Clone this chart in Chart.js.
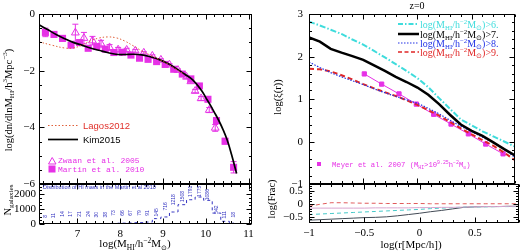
<!DOCTYPE html>
<html>
<head>
<meta charset="utf-8">
<script src="https://cdn.jsdelivr.net/npm/chart.js@4.4.1/dist/chart.umd.min.js"></script>
<style>
  body { margin: 0; background: #fff; width: 520px; height: 252px; position: relative; overflow: hidden; }
  canvas { position: absolute; }
</style>
</head>
<body>
<canvas id="hiTop" width="258" height="192" style="left:0px;top:0px"></canvas>
<canvas id="hiHist" width="258" height="72" style="left:0px;top:180px"></canvas>
<canvas id="xiTop" width="260" height="192" style="left:260px;top:0px"></canvas>
<canvas id="xiFrac" width="260" height="72" style="left:260px;top:180px"></canvas>
<script>
// ---- HI mass function (left panel) ----
const martinM = [6.25, 6.45, 6.65, 6.85, 7.05, 7.25, 7.45, 7.65, 7.85, 8.05, 8.25, 8.45, 8.65, 8.85, 9.05, 9.25, 9.45, 9.65, 9.85, 10.05, 10.25, 10.45, 10.65];
const martinPhi = [-0.65, -0.72, -0.86, -1.10, -1.01, -1.21, -1.15, -1.24, -1.36, -1.35, -1.45, -1.56, -1.60, -1.68, -1.78, -1.95, -2.12, -2.29, -2.54, -3.01, -3.76, -4.49, -5.41];
const martinErr = [0.15, 0.1, 0.1, 0.08, 0.1, 0.07, 0.06, 0.05, 0.05, 0.04, 0.04, 0.04, 0.03, 0.03, 0.03, 0.03, 0.03, 0.03, 0.04, 0.05, 0.08, 0.1, 0.2];

const zwaanM = [6.95, 7.15, 7.35, 7.55, 7.75, 7.95, 8.15, 8.35, 8.55, 8.75, 8.95, 9.15, 9.35, 9.55, 9.65, 9.75, 9.89, 10.08, 10.22];
const zwaanPhi = [-0.66, -0.85, -0.94, -1.05, -1.18, -1.26, -1.27, -1.30, -1.37, -1.48, -1.62, -1.79, -1.98, -2.22, -2.38, -2.72, -2.98, -3.39, -4.02];
const zwaanErr = [0.3, 0.2, 0.15, 0.12, 0.1, 0.08, 0.06, 0.05, 0.04, 0.04, 0.04, 0.04, 0.04, 0.05, 0.05, 0.06, 0.07, 0.09, 0.12];

const kimM = [6.1, 6.3, 6.5, 6.7, 6.9, 7.1, 7.3, 7.5, 7.7, 7.9, 8.1, 8.3, 8.5, 8.7, 8.9, 9.1, 9.3, 9.5, 9.7, 9.9, 10.0, 10.1, 10.2, 10.3, 10.4, 10.5, 10.6, 10.72];
const kimPhi = [-0.38, -0.55, -0.72, -0.87, -1.0, -1.1, -1.2, -1.28, -1.36, -1.42, -1.43, -1.42, -1.44, -1.51, -1.6, -1.74, -1.92, -2.12, -2.33, -2.7, -2.95, -3.2, -3.47, -3.75, -4.07, -4.45, -4.95, -5.63];

const lagosM = [6.1, 6.4, 6.7, 6.9, 7.1, 7.3, 7.5, 7.7, 7.9, 8.1, 8.3, 8.5, 8.7, 8.9, 9.1, 9.3, 9.5];
const lagosPhi = [-0.98, -1.1, -1.2, -1.2, -1.1, -0.95, -0.85, -0.81, -0.84, -0.95, -1.12, -1.3, -1.45, -1.6, -1.75, -1.94, -2.13];

// number of galaxies per bin (Martin et al. 2010)
const histM = martinM;
const histN = [5, 8, 10, 12, 15, 18, 22, 30, 40, 55, 70, 90, 130, 360, 470, 800, 1290, 1620, 1800, 1580, 730, 180, 70];
const histLabelY = [510, 560, 670, 670, 670, 670, 620, 620, 730, 730, 730, 730, 730, 780, 1180, 1620, 1840, 2180, 2180, 1960, 960, 620, 620];
const histLabel = ['8', '11', '14', '17', '21', '24', '30', '38', '73', '66', '67', '79', '91', '145', '716', '1218', '1508', '1791', '1775', '1086', '542', '111', '18'];

// ---- correlation function (right panel) ----
const rLog = [-1, -0.9, -0.8, -0.7, -0.6, -0.5, -0.4, -0.3, -0.2, -0.1, 0, 0.1, 0.2, 0.3, 0.4, 0.5, 0.6, 0.7, 0.8, 0.9];
const xiGt6 = [2.82, 2.73, 2.63, 2.53, 2.40, 2.28, 2.13, 1.98, 1.82, 1.66, 1.49, 1.28, 1.02, 0.77, 0.52, 0.38, 0.24, 0.12, 0.0, -0.12];
const xiGt7 = [2.45, 2.35, 2.18, 2.09, 2.01, 1.92, 1.79, 1.66, 1.52, 1.40, 1.27, 1.10, 0.88, 0.63, 0.40, 0.25, 0.13, -0.02, -0.18, -0.33];
const xiGt8 = [1.87, 1.74, 1.62, 1.52, 1.43, 1.34, 1.24, 1.15, 1.06, 0.98, 0.90, 0.78, 0.65, 0.50, 0.36, 0.23, 0.10, -0.03, -0.17, -0.38];
const xiGt9 = [1.71, 1.70, 1.65, 1.56, 1.46, 1.35, 1.25, 1.16, 1.07, 0.97, 0.86, 0.74, 0.61, 0.46, 0.31, 0.17, 0.03, -0.10, -0.26, -0.44];

const meyerR = [-0.49, -0.33, -0.17, -0.01, 0.15, 0.31, 0.47, 0.63, 0.79];
const meyerXi = [1.59, 1.35, 1.12, 0.88, 0.64, 0.41, 0.18, -0.06, -0.29];

const fracGt6 = [-0.42, -0.40, -0.38, -0.36, -0.34, -0.32, -0.30, -0.28, -0.26, -0.24, -0.22, -0.19, -0.17, -0.15, -0.13, -0.12, -0.12, -0.11, -0.11, -0.11];
const fracGt7 = [-0.64, -0.62, -0.60, -0.58, -0.56, -0.54, -0.53, -0.51, -0.47, -0.42, -0.37, -0.31, -0.26, -0.20, -0.14, -0.12, -0.11, -0.11, -0.10, -0.10];
const fracGt8 = [-0.17, -0.17, -0.17, -0.17, -0.17, -0.17, -0.16, -0.16, -0.16, -0.16, -0.15, -0.15, -0.14, -0.14, -0.13, -0.12, -0.11, -0.11, -0.10, -0.10];
const fracGt9 = [-0.10, -0.02, 0.04, 0.04, 0.03, 0.02, 0.02, 0.01, 0.01, 0.01, 0.01, 0.0, 0.0, 0.0, 0.0, 0.0, 0.0, 0.0, 0.0, 0.0];

const SERIF = "'Liberation Serif', serif";
const SANS = "'Liberation Sans', sans-serif";
const MONO = "'Liberation Mono', monospace";
const MAGENTA = '#e631e6';
const CYAN = '#3fdcdc';
const BLUE = '#2233e6';
const RED = '#e02626';

Chart.defaults.color = '#000';
Chart.defaults.font.family = SERIF;

const pts = (xs, ys) => xs.map((x, i) => ({x: x, y: ys[i]}));
const fmt = v => (v < 0 ? '\u2212' : '') + String(+Math.abs(v).toFixed(2));

// text with sub/superscripts: parts = [[text, 0 normal | 1 sub | 2 sup], ...]
function rich(ctx, parts, x, y, size, color, align, family) {
  ctx.save();
  ctx.fillStyle = color;
  ctx.textBaseline = 'alphabetic';
  ctx.textAlign = 'left';
  const fonts = parts.map(p => (p[1] ? size * 0.68 : size) + 'px ' + family);
  let total = 0;
  const widths = parts.map((p, i) => { ctx.font = fonts[i]; const w = ctx.measureText(p[0]).width; total += w; return w; });
  let cx = align === 'center' ? x - total / 2 : (align === 'right' ? x - total : x);
  parts.forEach((p, i) => {
    ctx.font = fonts[i];
    const dy = p[1] === 1 ? size * 0.25 : (p[1] === 2 ? -size * 0.4 : 0);
    ctx.fillText(p[0], cx, y + dy);
    cx += widths[i];
  });
  ctx.restore();
}
function richUp(ctx, parts, cx, cy, size, color, family) {
  ctx.save();
  ctx.translate(cx, cy);
  ctx.rotate(-Math.PI / 2);
  rich(ctx, parts, 0, size * 0.35, size, color, 'center', family);
  ctx.restore();
}
function seg(ctx, x1, y1, x2, y2) {
  ctx.beginPath(); ctx.moveTo(x1, y1); ctx.lineTo(x2, y2); ctx.stroke();
}

// inward tick marks, box and y labels, SM style
const tickCfg = {
  hiTop:  {xMinor: 0.2, xMajor: 1, yMinor: 0.5, yMajor: 2, yStep: 2, yPad: 4},
  hiHist: {xMinor: 0.2, xMajor: 1, yMinor: 250, yMajor: 1000, yStep: 1000, yPad: 3},
  xiTop:  {xMinor: 0.1, xMajor: 0.5, yMinor: 0.2, yMajor: 1, yStep: 1, yPad: 6},
  xiFrac: {xMinor: 0.1, xMajor: 0.5, yMinor: 0.1, yMajor: 0.5, yStep: 0.5, yPad: 6}
};
const extras = {};

function marks(scale, minor, major, fn) {
  const k0 = Math.ceil(scale.min / minor - 1e-6), k1 = Math.floor(scale.max / minor + 1e-6);
  for (let k = k0; k <= k1; k++) {
    const v = k * minor;
    const big = Math.abs(v / major - Math.round(v / major)) < 1e-6;
    fn(Math.round(scale.getPixelForValue(v)) + 0.5, big ? 5 : 2.5, v);
  }
}

const decor = {
  id: 'decor',
  beforeDatasetsDraw(chart) {
    // error bars
    const {ctx, chartArea: a} = chart;
    const ys = chart.scales.y;
    ctx.save();
    ctx.beginPath(); ctx.rect(a.left, a.top, a.right - a.left, a.bottom - a.top); ctx.clip();
    chart.data.datasets.forEach((ds, di) => {
      if (!ds.err) return;
      const meta = chart.getDatasetMeta(di);
      ctx.strokeStyle = ds.borderColor;
      ctx.lineWidth = 1;
      ds.data.forEach((d, i) => {
        const el = meta.data[i];
        const y1 = ys.getPixelForValue(d.y + ds.err[i]);
        const y2 = ys.getPixelForValue(d.y - ds.err[i]);
        seg(ctx, el.x, y1, el.x, y2);
        seg(ctx, el.x - 3, y1, el.x + 3, y1);
        seg(ctx, el.x - 3, y2, el.x + 3, y2);
      });
    });
    ctx.restore();
  },
  afterDatasetsDraw(chart) {
    const {ctx, chartArea: a, scales: {x, y}} = chart;
    const t = tickCfg[chart.canvas.id];
    ctx.save();
    ctx.strokeStyle = '#000';
    ctx.lineWidth = 1;
    const L = Math.round(a.left) + 0.5, R = Math.round(a.right) - 0.5;
    const T = Math.round(a.top) + 0.5, B = Math.round(a.bottom) - 0.5;
    ctx.strokeRect(L, T, R - L, B - T);
    marks(x, t.xMinor, t.xMajor, (p, len) => { seg(ctx, p, B, p, B - len); seg(ctx, p, T, p, T + len); });
    marks(y, t.yMinor, t.yMajor, (p, len) => { seg(ctx, L, p, L + len, p); seg(ctx, R, p, R - len, p); });
    ctx.restore();
    if (extras[chart.canvas.id]) extras[chart.canvas.id](chart, ctx);
  },
  afterDraw(chart) {
    // y tick labels at the scale's step values
    const {ctx, chartArea: a, scales: {y}} = chart;
    const t = tickCfg[chart.canvas.id];
    ctx.save();
    ctx.fillStyle = '#000';
    ctx.font = '11px ' + SERIF;
    ctx.textAlign = 'right';
    ctx.textBaseline = 'middle';
    marks(y, t.yStep, t.yStep, (p, len, v) => { ctx.fillText(fmt(v), a.left - t.yPad, p); });
    ctx.restore();
  }
};

function makePanel(id, datasets, xr, yr, opts) {
  return new Chart(document.getElementById(id), {
    type: 'scatter',
    data: {datasets: datasets},
    options: {
      responsive: false,
      animation: false,
      devicePixelRatio: 1,
      events: [],
      layout: {padding: opts.padding},
      plugins: {legend: {display: false}, tooltip: {enabled: false}},
      scales: {
        x: {
          type: 'linear', min: xr[0], max: xr[1], display: opts.xLabels,
          grid: {display: false, drawTicks: false}, border: {display: false},
          ticks: {stepSize: xr[2], includeBounds: false, autoSkip: false, maxRotation: 0, padding: 4, font: {size: 11, family: SERIF},
                  callback: v => Math.abs(v / xr[2] - Math.round(v / xr[2])) < 1e-6 ? fmt(v) : ''},
          afterFit: s => { s.height = opts.xHeight; }
        },
        y: {
          type: 'linear', min: yr[0], max: yr[1],
          grid: {display: false, drawTicks: false}, border: {display: false},
          ticks: {display: false},
          afterFit: s => { s.width = opts.yWidth; }
        }
      }
    },
    plugins: [decor]
  });
}

// ---------- left: HI mass function ----------
extras.hiTop = (chart, ctx) => {
  richUp(ctx, [['log(dn/dlnM', 0], ['HI', 1], ['/h', 0], ['3', 2], ['Mpc', 0], ['\u22123', 2], [')', 0]], 8, 100, 10.5, '#000', SERIF);
  ctx.save();
  ctx.strokeStyle = '#e0603a'; ctx.lineWidth = 1; ctx.setLineDash([1.5, 2]);
  seg(ctx, 48, 125.5, 78, 125.5);
  ctx.setLineDash([]);
  ctx.strokeStyle = '#000'; ctx.lineWidth = 1.7;
  seg(ctx, 48, 139.5, 78, 139.5);
  ctx.font = '9.5px ' + SANS;
  ctx.fillStyle = '#e0302a'; ctx.fillText('Lagos2012', 83, 129);
  ctx.fillStyle = '#000'; ctx.fillText('Kim2015', 83, 142.5);
  ctx.strokeStyle = MAGENTA; ctx.lineWidth = 1;
  ctx.beginPath(); ctx.moveTo(48.5, 164); ctx.lineTo(56, 164); ctx.lineTo(52.2, 157.5); ctx.closePath(); ctx.stroke();
  ctx.fillStyle = MAGENTA; ctx.fillRect(48.5, 165.5, 7, 7);
  ctx.font = '8px ' + MONO;
  ctx.fillText('Zwaan et al. 2005', 58, 163);
  ctx.fillText('Martin et al. 2010', 58, 172);
  ctx.restore();
};
makePanel('hiTop', [
  {label: 'Lagos2012', data: pts(lagosM, lagosPhi), showLine: true, borderColor: '#e0603a', borderWidth: 1, borderDash: [1.5, 2], pointRadius: 0, tension: 0.4},
  {label: 'Kim2015', data: pts(kimM, kimPhi), showLine: true, borderColor: '#000', borderWidth: 1.7, pointRadius: 0, tension: 0.4},
  {label: 'Zwaan et al. 2005', data: pts(zwaanM, zwaanPhi), err: zwaanErr, borderColor: MAGENTA, backgroundColor: 'rgba(0,0,0,0)', borderWidth: 1, pointStyle: 'triangle', pointRadius: 4.5},
  {label: 'Martin et al. 2010', data: pts(martinM, martinPhi), err: martinErr, borderColor: MAGENTA, backgroundColor: MAGENTA, borderWidth: 0, pointStyle: 'rect', pointRadius: 5}
], [6.1, 11.08, 1], [-6, 0], {padding: {left: 0, top: 14, right: 6, bottom: 8}, xLabels: false, xHeight: 0, yWidth: 39});

extras.hiHist = (chart, ctx) => {
  const {x, y} = chart.scales;
  ctx.save();
  ctx.fillStyle = '#3333c0';
  ctx.font = '5.5px ' + SANS;
  ctx.fillText('Distribution of HI mass in the Martin et al 2010', 43, 9);
  ctx.font = '5px ' + SANS;
  histLabel.forEach((s, i) => {
    ctx.save();
    ctx.translate(x.getPixelForValue(histM[i]), y.getPixelForValue(histLabelY[i]));
    ctx.rotate(-Math.PI / 2);
    ctx.textAlign = 'center'; ctx.textBaseline = 'middle';
    ctx.fillText(s, 0, 0);
    ctx.restore();
  });
  ctx.restore();
  richUp(ctx, [['N', 0], ['galaxies', 1]], 7, 20, 10.5, '#000', SERIF);
  rich(ctx, [['log(M', 0], ['HI', 1], ['/h', 0], ['\u22122', 2], ['M', 0], ['\u2299', 1], [')', 0]], 135, 67, 11, '#000', 'center', SERIF);
};
makePanel('hiHist', [
  {label: 'N galaxies', data: pts(histM, histN), showLine: true, stepped: 'middle', borderColor: '#3333c0', borderWidth: 1, borderDash: [3, 3], pointRadius: 0}
], [6.1, 11.08, 1], [0, 2670], {padding: {left: 0, top: 4, right: 6, bottom: 0}, xLabels: true, xHeight: 28, yWidth: 39});

// ---------- right: correlation function ----------
extras.xiTop = (chart, ctx) => {
  richUp(ctx, [['log(\u03be(r))', 0]], 17, 97, 10.5, '#000', SERIF);
  rich(ctx, [['z=0', 0]], 157, 9, 10, '#000', 'center', SERIF);
  const rows = [
    {c: CYAN, w: 2, dash: [5, 2, 1.5, 2], t: ')>6.', y: 24},
    {c: '#000', w: 2.5, dash: [], t: ')>7.', y: 34},
    {c: BLUE, w: 1.2, dash: [1.5, 1.5], t: ')>8.', y: 43},
    {c: RED, w: 1.5, dash: [4, 2.5], t: ')>9.', y: 52}
  ];
  ctx.save();
  rows.forEach(r => {
    ctx.strokeStyle = r.c; ctx.lineWidth = r.w; ctx.setLineDash(r.dash);
    seg(ctx, 138, r.y, 159, r.y);
    ctx.setLineDash([]);
    rich(ctx, [['log(M', 0], ['HI', 1], ['/h', 0], ['\u22122', 2], ['M', 0], ['\u2299', 1], [r.t, 0]], 160, r.y + 3.5, 10, r.c, 'left', SERIF);
  });
  ctx.fillStyle = MAGENTA;
  ctx.fillRect(57, 162, 4, 4);
  ctx.restore();
  rich(ctx, [['Meyer et al. 2007 (M', 0], ['HI', 1], ['>10', 0], ['9.25', 2], ['h', 0], ['\u22122', 2], ['M', 0], ['\u2299', 1], [')', 0]], 72, 167, 7.2, MAGENTA, 'left', MONO);
};
makePanel('xiTop', [
  {label: '>6', data: pts(rLog, xiGt6), showLine: true, borderColor: CYAN, borderWidth: 2, borderDash: [6, 2, 1.5, 2], pointRadius: 0},
  {label: '>7', data: pts(rLog, xiGt7), showLine: true, borderColor: '#000', borderWidth: 2.5, pointRadius: 0},
  {label: '>8', data: pts(rLog, xiGt8), showLine: true, borderColor: BLUE, borderWidth: 1.2, borderDash: [1.5, 1.5], pointRadius: 0},
  {label: '>9', data: pts(rLog, xiGt9), showLine: true, borderColor: RED, borderWidth: 2, borderDash: [5, 3], pointRadius: 0},
  {label: 'Meyer et al. 2007', data: pts(meyerR, meyerXi), showLine: true, borderColor: MAGENTA, backgroundColor: MAGENTA, borderWidth: 1, pointStyle: 'rect', pointRadius: 3}
], [-1, 0.9, 0.5], [-1, 3], {padding: {left: 0, top: 14, right: 1, bottom: 8}, xLabels: false, xHeight: 0, yWidth: 49});

extras.xiFrac = (chart, ctx) => {
  richUp(ctx, [['log(Frac)', 0]], 11, 19, 10.5, '#000', SERIF);
  rich(ctx, [['log(r[Mpc/h])', 0]], 151, 68, 11, '#000', 'center', SERIF);
};
makePanel('xiFrac', [
  {label: '>9', data: pts(rLog, fracGt9), showLine: true, borderColor: '#e05a5a', borderWidth: 1, borderDash: [4, 3], pointRadius: 0},
  {label: '>8', data: pts(rLog, fracGt8), showLine: true, borderColor: '#d9a6cf', borderWidth: 1, pointRadius: 0},
  {label: '>6', data: pts(rLog, fracGt6), showLine: true, borderColor: '#45c8c8', borderWidth: 1, borderDash: [4, 3], pointRadius: 0},
  {label: '>7', data: pts(rLog, fracGt7), showLine: true, borderColor: '#424a55', borderWidth: 1, pointRadius: 0}
], [-1, 0.9, 0.5], [-0.75, 0.77], {padding: {left: 0, top: 4, right: 1, bottom: 0}, xLabels: true, xHeight: 29, yWidth: 49});
</script>
</body>
</html>
